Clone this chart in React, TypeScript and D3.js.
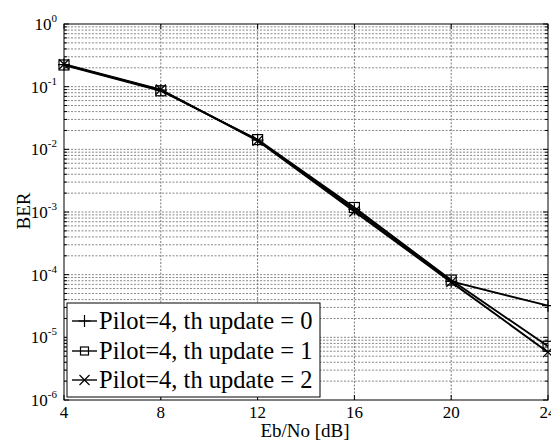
import React from "react";
import * as d3 from "d3";

const snrDb = [4, 8, 12, 16, 20, 24];
const berUpdate0 = [0.225, 0.088, 0.0140, 0.00110, 7.8e-5, 3.2e-5];
const berUpdate1 = [0.222, 0.086, 0.0143, 0.00118, 8.2e-5, 7.2e-6];
const berUpdate2 = [0.228, 0.090, 0.0137, 0.00102, 7.6e-5, 5.8e-6];
const seriesNames = ["Pilot=4, th update = 0", "Pilot=4, th update = 1", "Pilot=4, th update = 2"];
const xTicks = [4, 8, 12, 16, 20, 24];
const yExponents = [0, -1, -2, -3, -4, -5, -6];

const W = 551, H = 441;
const L = 64, R = 548, T = 24, B = 400;
const FONT = "'Liberation Serif', 'Times New Roman', serif";

export default function App() {
  const x = d3.scaleLinear().domain([4, 24]).range([L, R]);
  const y = d3.scaleLog().domain([1e-6, 1]).range([B, T]);
  const series = [berUpdate0, berUpdate1, berUpdate2];
  const line = d3.line<[number, number]>().x(d => x(d[0])).y(d => y(d[1]));

  const minor: number[] = [];
  for (let e = -6; e < 0; e++) for (let m = 2; m <= 9; m++) minor.push(m * Math.pow(10, e));

  const marker = (k: number, cx: number, cy: number, key: string, sq = 5) => {
    if (k === 0) return <path key={key} d={`M${cx - 6},${cy}H${cx + 6}M${cx},${cy - 6}V${cy + 6}`} stroke="#000" strokeWidth={1.2} fill="none" />;
    if (k === 1) return <rect key={key} x={cx - sq} y={cy - sq} width={2 * sq} height={2 * sq} stroke="#000" strokeWidth={1.2} fill="none" />;
    return <path key={key} d={`M${cx - 5},${cy - 5}L${cx + 5},${cy + 5}M${cx - 5},${cy + 5}L${cx + 5},${cy - 5}`} stroke="#000" strokeWidth={1.2} fill="none" />;
  };

  const legX = 67, legY = 303, legW = 253, legH = 94;
  const rowY = [321, 351, 380];
  const gridStroke = "#6a6a6a";

  return (
    <svg width={W} height={H} style={{ position: "absolute", left: 0, top: 0, background: "#fff" }} fontFamily={FONT}>
      <rect x={0} y={0} width={W} height={H} fill="#fff" />
      {/* grid */}
      {minor.map((v, i) => (
        <line key={"mg" + i} x1={L} x2={R} y1={y(v)} y2={y(v)} stroke={gridStroke} strokeWidth={0.8} strokeDasharray="2,1.5" />
      ))}
      {yExponents.slice(1, -1).map(e => (
        <line key={"yg" + e} x1={L} x2={R} y1={y(Math.pow(10, e))} y2={y(Math.pow(10, e))} stroke={gridStroke} strokeWidth={0.8} strokeDasharray="2,1.5" />
      ))}
      {xTicks.slice(1, -1).map(t => (
        <line key={"xg" + t} x1={x(t)} x2={x(t)} y1={T} y2={B} stroke={gridStroke} strokeWidth={0.9} strokeDasharray="2,1.5" />
      ))}
      {/* ticks */}
      {xTicks.map(t => (
        <g key={"xt" + t}>
          <line x1={x(t)} x2={x(t)} y1={B} y2={B - 5} stroke="#000" />
          <line x1={x(t)} x2={x(t)} y1={T} y2={T + 5} stroke="#000" />
          <text x={x(t)} y={418} textAnchor="middle" fontSize={17} fill="#000">{t}</text>
        </g>
      ))}
      {minor.map((v, i) => (
        <g key={"mt" + i}>
          <line x1={L} x2={L + 3} y1={y(v)} y2={y(v)} stroke="#000" />
          <line x1={R} x2={R - 3} y1={y(v)} y2={y(v)} stroke="#000" />
        </g>
      ))}
      {yExponents.map(e => {
        const yy = y(Math.pow(10, e));
        return (
          <g key={"yt" + e}>
            <line x1={L} x2={L + 5} y1={yy} y2={yy} stroke="#000" />
            <line x1={R} x2={R - 5} y1={yy} y2={yy} stroke="#000" />
            <text x={57} y={yy + 6} textAnchor="end" fontSize={17} fill="#000">
              10<tspan dy={-8} fontSize={11}>{e}</tspan>
            </text>
          </g>
        );
      })}
      {/* lines */}
      {series.map((s, k) => (
        <path key={"l" + k} d={line(snrDb.map((v, i) => [v, s[i]] as [number, number])) || ""} stroke="#000" strokeWidth={1.9} fill="none" />
      ))}
      {series.map((s, k) => snrDb.map((v, i) => marker(k, x(v), y(s[i]), `m${k}-${i}`)))}
      {/* axes box */}
      <rect x={L} y={T} width={R - L} height={B - T} fill="none" stroke="#000" strokeWidth={1} />
      {/* legend */}
      <rect x={legX} y={legY} width={legW} height={legH} fill="#fff" stroke="#000" strokeWidth={1} />
      {seriesNames.map((n, k) => (
        <g key={"lg" + k}>
          <line x1={72} x2={97} y1={rowY[k]} y2={rowY[k]} stroke="#000" strokeWidth={1.4} />
          {marker(k, 84.5, rowY[k], "lm" + k, 4)}
          <text x={99} y={rowY[k] + 8} fontSize={24.5} fill="#000">{n}</text>
        </g>
      ))}
      {/* labels */}
      <text x={305} y={437} textAnchor="middle" fontSize={19} fill="#000">Eb/No [dB]</text>
      <text transform={`translate(30,211) rotate(-90)`} textAnchor="middle" fontSize={19} fill="#000">BER</text>
    </svg>
  );
}
